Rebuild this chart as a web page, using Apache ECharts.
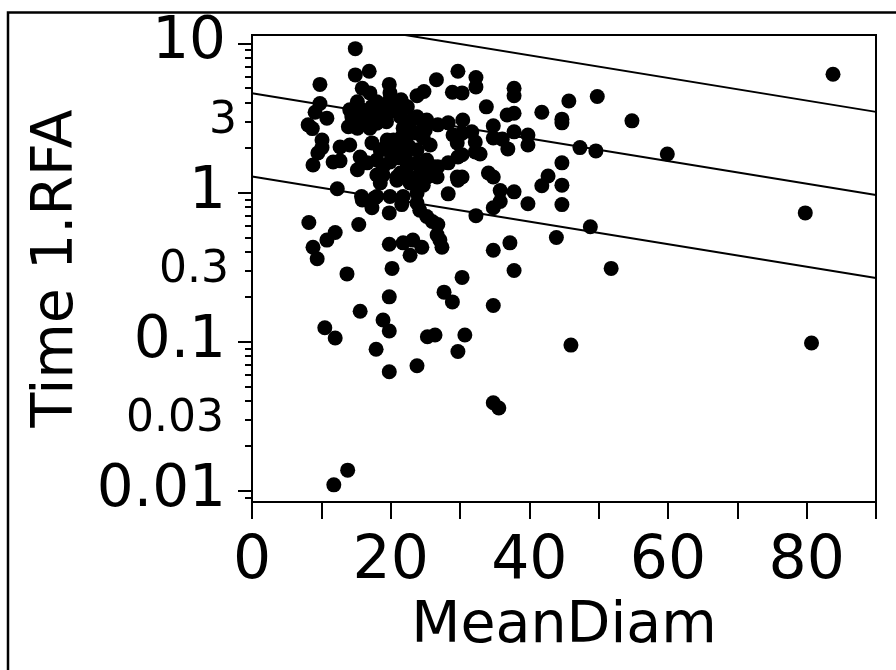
<!DOCTYPE html>
<html>
<head>
<meta charset="utf-8">
<script src="https://cdn.jsdelivr.net/npm/echarts@6/dist/echarts.min.js"></script>
<style>
html,body{margin:0;padding:0;background:#fff;}
#chart{width:896px;height:670px;}
</style>
</head>
<body>
<div id="chart"></div>
<script>
// ---- data ----
var xTickValues = [0, 10, 20, 30, 40, 50, 60, 70, 80, 90];
var xLabelValues = [0, 20, 40, 60, 80];
var yLabelValues = [10, 3, 1, 0.3, 0.1, 0.03, 0.01];
var yLabelTexts = ['10', '3', '1', '0.3', '0.1', '0.03', '0.01'];
var yMajorTicks = [10, 1, 0.1, 0.01];
var yMinorTicks = [9, 8, 7, 6, 5, 4, 3, 2, 0.9, 0.8, 0.7, 0.6, 0.5, 0.4, 0.3, 0.2,
  0.09, 0.08, 0.07, 0.06, 0.05, 0.04, 0.03, 0.02, 0.009];
var xRange = [0, 90];
var yRange = [0.00844, 11.36];

// [MeanDiam, Time 1.RFA]
var points = [
[14.9,9.2],[14.9,6.14],[16.9,6.5],[9.8,5.3],[19.8,5.3],[26.6,5.7],[29.7,6.5],[28.9,4.7],[30.3,4.65],
[23.8,4.45],[24.8,4.75],[15.9,5.0],[17.0,4.65],[19.9,4.65],[19.9,4.18],[32.3,5.9],[32.3,5.1],[37.8,5.0],
[37.8,4.45],[45.7,4.1],[49.8,4.4],[33.8,3.75],[83.8,6.2],[21.5,4.18],[22.4,3.75],[15.2,4.05],[18.0,4.05],
[9.8,3.95],[9.1,3.45],[10.8,3.15],[8.1,2.84],[8.7,2.68],[14.1,3.58],[15.6,3.4],[18.2,3.58],[13.9,2.76],
[15.2,2.7],[16.0,2.97],[24.7,2.93],[26.8,2.84],[28.3,2.93],[30.4,3.06],[41.8,3.45],[44.7,3.1],[44.7,2.93],
[54.8,3.02],[36.8,3.31],[37.8,3.4],[34.8,2.8],[30.3,2.5],[31.7,2.55],[37.8,2.55],[39.8,2.43],[39.8,2.08],
[34.8,2.32],[36.1,2.28],[32.2,2.18],[32.2,1.87],[32.9,1.81],[36.9,1.96],[47.3,2.0],[49.6,1.9],[59.9,1.81],
[30.3,1.79],[44.7,1.58],[34.1,1.35],[34.8,1.27],[30.3,1.27],[42.7,1.29],[41.8,1.11],[44.7,1.12],[35.8,1.03],
[37.8,1.01],[35.8,0.87],[34.8,0.79],[39.8,0.84],[44.7,0.83],[32.3,0.70],[79.8,0.73],[48.8,0.59],[43.9,0.50],
[37.2,0.46],[34.8,0.41],[37.8,0.30],[51.8,0.31],[30.3,0.27],[34.8,0.175],[46.0,0.095],[80.7,0.098],
[34.8,0.039],[35.6,0.036],
[10.1,2.25],[10.1,2.0],[9.5,1.84],[8.8,1.53],[12.7,2.02],[14.1,2.08],[11.7,1.6],[12.7,1.63],[17.3,2.15],
[19.5,2.25],[20.9,2.15],[19.9,1.87],[21.6,2.36],[22.8,2.5],[23.8,1.93],[25.7,2.08],[15.6,1.73],[16.6,1.58],
[18.0,1.65],[18.9,1.49],[19.9,1.6],[21.1,1.71],[21.8,1.71],[15.2,1.42],[22.4,1.49],[23.8,1.58],[25.0,1.53],
[26.8,1.49],[28.3,1.58],[29.7,1.73],[29.6,2.15],[29.0,2.43],[18.0,1.31],[18.5,1.16],[20.9,1.27],[22.4,1.27],
[23.8,1.27],[25.3,1.27],[26.7,1.27],[29.6,1.27],[12.3,1.06],[20.9,1.21],[22.8,1.16],[24.7,1.12],[29.7,1.21],
[15.8,3.58],[14.4,3.22],[17.0,3.15],[17.3,3.77],[18.0,2.91],[17.0,2.7],[18.5,3.87],[18.7,3.31],[19.4,2.98],
[19.9,3.49],[20.9,3.67],[21.8,3.87],[21.4,3.22],[21.8,2.7],[22.6,2.91],[23.0,3.06],[23.8,3.22],[25.2,3.06],
[25.0,2.63],[23.8,2.5],[24.7,2.32],[18.5,1.93],[19.4,2.08],[20.4,2.25],[21.4,1.93],[22.1,1.74],[22.6,2.05],
[21.4,1.35],[25.2,1.65],[24.5,1.35],[26.2,1.49],[18.9,1.31],[15.8,0.94],[18.0,0.94],[19.9,0.94],[21.8,0.94],
[15.9,0.89],[17.7,0.92],[17.3,0.79],[19.8,0.73],[21.6,0.83],[23.8,0.99],[23.8,0.85],[24.2,0.76],[25.2,0.69],
[26.0,0.64],[26.8,0.61],[26.7,0.52],[27.1,0.48],[27.4,0.43],[28.3,0.98],[8.2,0.63],[15.4,0.61],[12.0,0.54],
[10.8,0.48],[8.8,0.43],[9.4,0.36],[19.8,0.45],[21.8,0.46],[23.2,0.48],[24.5,0.43],[22.8,0.38],[20.2,0.31],
[13.7,0.285],[27.7,0.215],[28.9,0.185],[19.8,0.20],[15.6,0.16],[18.9,0.14],[19.8,0.118],[10.5,0.124],
[12.0,0.106],[25.3,0.108],[26.4,0.111],[30.7,0.111],[17.9,0.089],[19.8,0.063],[23.8,0.069],[29.7,0.086],
[13.8,0.0138],[11.8,0.011]
];

// fitted line and band, values at x = 0 and x = 90
var fitX = [0, 90];
var fitMid = [4.62, 0.964];
var fitLow = [1.28, 0.267];
var fitHigh = [16.7, 3.47];

// ---- chart ----
var FONT = 'DejaVu Sans';
function pair(xs, ys) { return xs.map(function (x, i) { return [x, ys[i]]; }); }
function lineSeries(ys) {
  return {
    type: 'line', data: pair(fitX, ys), symbol: 'none', silent: true, clip: true,
    lineStyle: { color: '#000', width: 2 }, z: 3
  };
}
function yFormatter(v) {
  var best = 0, bd = Infinity;
  for (var i = 0; i < yLabelValues.length; i++) {
    var d = Math.abs(Math.log10(v) - Math.log10(yLabelValues[i]));
    if (d < bd) { bd = d; best = i; }
  }
  var t = yLabelTexts[best];
  var style = { '10': 'maj', '1': 'maj', '0.1': 'maj', '0.01': 'maj', '3': 'm3', '0.3': 'm03', '0.03': 'm003' }[t];
  return '{' + style + '|' + t + '}';
}

var chart = echarts.init(document.getElementById('chart'), null, { renderer: 'canvas' });
chart.setOption({
  animation: false,
  backgroundColor: '#fff',
  grid: { left: 252, right: 20, top: 35, bottom: 168, show: true, borderColor: '#000', borderWidth: 2, containLabel: false },
  graphic: [{
    type: 'rect', shape: { x: 8, y: 12.5, width: 1000, height: 1000 },
    style: { fill: null, stroke: '#000', lineWidth: 2.5 }, silent: true
  }],
  xAxis: {
    type: 'value', min: xRange[0], max: xRange[1], interval: 10,
    name: 'MeanDiam', nameLocation: 'middle', nameGap: 97,
    nameTextStyle: { fontFamily: FONT, fontSize: 57, color: '#000' },
    axisLine: { show: true, onZero: false, lineStyle: { color: '#000', width: 2 } },
    axisTick: { show: true, length: 17, customValues: xTickValues, lineStyle: { color: '#000', width: 2 } },
    axisLabel: { customValues: xLabelValues, margin: 30, fontFamily: FONT, fontSize: 60, color: '#000' },
    splitLine: { show: false }
  },
  yAxis: [{
    type: 'log', logBase: 10, min: yRange[0], max: yRange[1], position: 'left',
    name: 'Time 1.RFA', nameLocation: 'middle', nameGap: 156,
    nameTextStyle: { fontFamily: FONT, fontSize: 57, color: '#000' },
    axisLine: { show: true, onZero: false, lineStyle: { color: '#000', width: 2 } },
    axisTick: { show: true, length: 14, customValues: yMajorTicks, lineStyle: { color: '#000', width: 2 } },
    axisLabel: {
      customValues: yLabelValues, margin: 15, color: '#000', fontFamily: FONT,
      formatter: yFormatter,
      rich: {
        maj: { fontFamily: FONT, fontSize: 58, color: '#000', padding: [0, 11, 0, 0] },
        m3: { fontFamily: FONT, fontSize: 44, color: '#000', padding: [0, 0, 0, 0] },
        m03: { fontFamily: FONT, fontSize: 44, color: '#000', padding: [0, 8, 0, 0] },
        m003: { fontFamily: FONT, fontSize: 44, color: '#000', padding: [0, 13, 0, 0] }
      }
    },
    splitLine: { show: false }
  }, {
    type: 'log', logBase: 10, min: yRange[0], max: yRange[1], position: 'left',
    axisLine: { show: false },
    axisTick: { show: true, length: 7, customValues: yMinorTicks, lineStyle: { color: '#000', width: 2 } },
    axisLabel: { show: false },
    splitLine: { show: false }
  }],
  series: [
    lineSeries(fitHigh),
    lineSeries(fitMid),
    lineSeries(fitLow),
    {
      type: 'scatter', data: points, symbol: 'circle', symbolSize: 15,
      itemStyle: { color: '#000', opacity: 1 }, z: 4
    }
  ]
});
</script>
</body>
</html>
